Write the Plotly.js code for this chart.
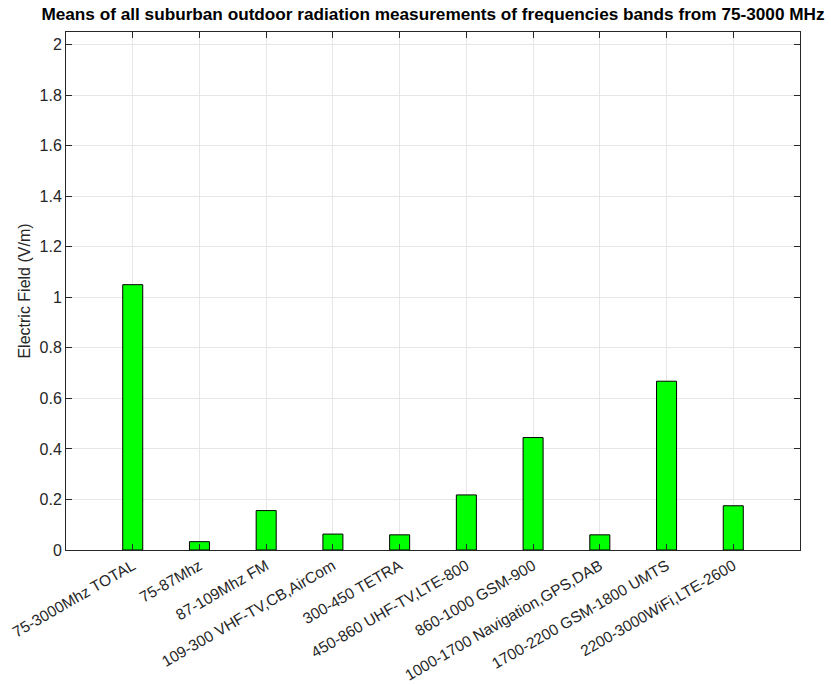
<!DOCTYPE html>
<html>
<head>
<meta charset="utf-8">
<script src="https://cdn.plot.ly/plotly-3.0.1.min.js"></script>
<style>
  html, body { margin: 0; padding: 0; background: #fff; }
  #chart { width: 831px; height: 685px; }
</style>
</head>
<body>
<div id="chart"></div>
<script>
// Frequency bands (tick labels) and their mean electric field values in V/m
const bands = [
  "75-3000Mhz TOTAL",
  "75-87Mhz",
  "87-109Mhz FM",
  "109-300 VHF-TV,CB,AirCom",
  "300-450 TETRA",
  "450-860 UHF-TV,LTE-800",
  "860-1000 GSM-900",
  "1000-1700 Navigation,GPS,DAB",
  "1700-2200 GSM-1800 UMTS",
  "2200-3000WiFi,LTE-2600"
];
const meanField = [1.05, 0.033, 0.156, 0.063, 0.06, 0.218, 0.445, 0.06, 0.668, 0.175];
const positions = [1, 2, 3, 4, 5, 6, 7, 8, 9, 10];
const yTicks = [0, 0.2, 0.4, 0.6, 0.8, 1, 1.2, 1.4, 1.6, 1.8, 2];

const axisColor = "#262626";
const gridColor = "#e6e6e6";
const font = "Liberation Sans, Arial, Helvetica, sans-serif";

const trace = {
  type: "bar",
  x: positions,
  y: meanField,
  width: 0.3,
  marker: { color: "#00ff00", line: { color: "#000000", width: 1 } },
  hoverinfo: "y"
};

const layout = {
  width: 831,
  height: 685,
  paper_bgcolor: "#ffffff",
  plot_bgcolor: "#ffffff",
  margin: { l: 66, r: 31, t: 32, b: 135 },
  showlegend: false,
  font: { family: font, size: 15, color: axisColor },
  title: {
    text: "<b>Means of all suburban outdoor radiation measurements of frequencies bands from 75-3000 MHz</b>",
    font: { family: font, size: 17.2, color: "#000000" },
    x: 0.5, xref: "paper", xanchor: "center",
    y: 1, yref: "container", yanchor: "top", pad: { t: 8 }
  },
  xaxis: {
    range: [0, 11],
    tickmode: "array",
    tickvals: positions,
    ticktext: bands,
    tickangle: -30,
    ticks: "inside",
    ticklen: 6,
    tickcolor: axisColor,
    showgrid: true,
    gridcolor: gridColor,
    showline: true,
    linecolor: axisColor,
    linewidth: 1,
    mirror: "ticks",
    zeroline: false,
    tickfont: { family: font, size: 15.5, color: axisColor },
    fixedrange: true
  },
  yaxis: {
    range: [0, 2.05],
    tickmode: "array",
    tickvals: yTicks,
    ticktext: yTicks.map(v => String(v)),
    ticks: "inside",
    ticklen: 6,
    tickcolor: axisColor,
    showgrid: true,
    gridcolor: gridColor,
    showline: true,
    linecolor: axisColor,
    linewidth: 1,
    mirror: "ticks",
    zeroline: false,
    tickfont: { family: font, size: 16, color: axisColor },
    title: { text: "Electric Field (V/m)", font: { family: font, size: 16, color: axisColor }, standoff: 4 },
    fixedrange: true
  }
};

Plotly.newPlot("chart", [trace], layout, { displayModeBar: false, staticPlot: true });
</script>
</body>
</html>
